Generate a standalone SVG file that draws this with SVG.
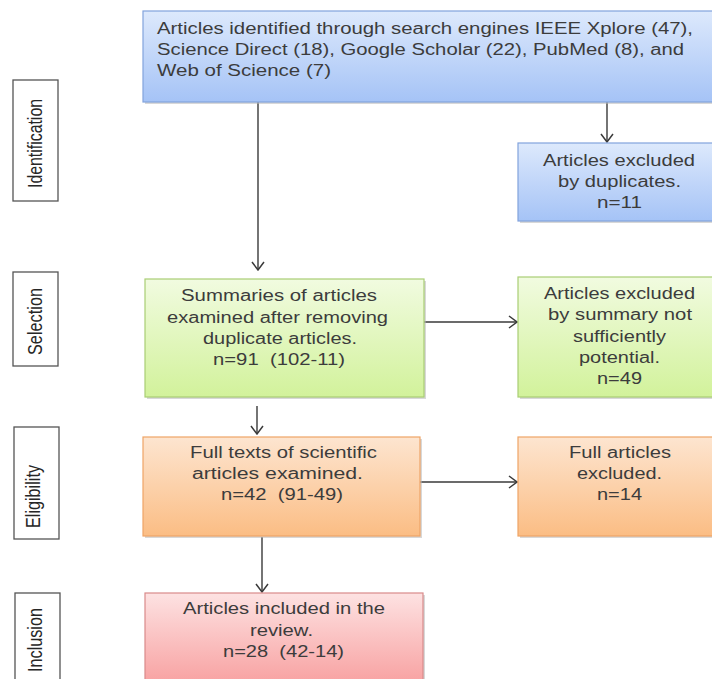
<svg xmlns="http://www.w3.org/2000/svg" width="712" height="679" viewBox="0 0 712 679">
<style>
.t{font-family:"Liberation Sans",Arial,sans-serif;font-size:16px;fill:#3c3c3c;white-space:pre}
.c{text-anchor:middle}
.lab{font-family:"Liberation Sans",Arial,sans-serif;font-size:16px;fill:#262626;text-anchor:middle}
.lb{fill:#fff;stroke:#555;stroke-width:1.3}
.sh{fill:#b8b8b8;opacity:0.55}
.conn{stroke:#3a3a3a;stroke-width:1.4;fill:none;marker-end:url(#ah)}
</style>
<defs>
<linearGradient id="gb" x1="0" y1="0" x2="0" y2="1"><stop offset="0" stop-color="#dde9fc"/><stop offset="1" stop-color="#a5c3f6"/></linearGradient>
<linearGradient id="gg" x1="0" y1="0" x2="0" y2="1"><stop offset="0" stop-color="#f1fbe0"/><stop offset="1" stop-color="#d2f29b"/></linearGradient>
<linearGradient id="go" x1="0" y1="0" x2="0" y2="1"><stop offset="0" stop-color="#fde5d0"/><stop offset="1" stop-color="#fbbd84"/></linearGradient>
<linearGradient id="gp" x1="0" y1="0" x2="0" y2="1"><stop offset="0" stop-color="#fde2e2"/><stop offset="1" stop-color="#f8a2a2"/></linearGradient>
<marker id="ah" viewBox="0 0 10 14" refX="9" refY="7" markerWidth="10" markerHeight="14" markerUnits="userSpaceOnUse" orient="auto">
<polyline points="1,1 9,7 1,13" fill="none" stroke="#3a3a3a" stroke-width="1.5"/>
</marker>
</defs>

<g id="label-identification"><rect class="lb" x="13" y="80" width="45" height="121"/><text class="lab" transform="translate(42,143.5) scale(1.3,1) rotate(-90)" textLength="89" lengthAdjust="spacingAndGlyphs">Identification</text></g>
<g id="label-selection"><rect class="lb" x="13" y="272" width="45" height="94"/><text class="lab" transform="translate(42,321.5) scale(1.3,1) rotate(-90)" textLength="67" lengthAdjust="spacingAndGlyphs">Selection</text></g>
<g id="label-eligibility"><rect class="lb" x="14" y="427" width="45" height="112"/><text class="lab" transform="translate(40,496.5) scale(1.3,1) rotate(-90)" textLength="63" lengthAdjust="spacingAndGlyphs">Eligibility</text></g>
<g id="label-inclusion"><rect class="lb" x="15" y="593" width="45" height="95"/><text class="lab" transform="translate(42,640) scale(1.3,1) rotate(-90)" textLength="64" lengthAdjust="spacingAndGlyphs">Inclusion</text></g>

<g id="connectors">
<line class="conn" x1="258" y1="102" x2="258" y2="270"/>
<line class="conn" x1="607" y1="102" x2="607" y2="142"/>
<line class="conn" x1="424" y1="322" x2="517" y2="322"/>
<line class="conn" x1="257" y1="406" x2="257" y2="434"/>
<line class="conn" x1="420" y1="482" x2="517" y2="482"/>
<line class="conn" x1="262" y1="537" x2="262" y2="592"/>
</g>

<g id="identified">
<rect class="sh" x="145" y="13" width="570" height="91"/>
<rect x="143" y="11" width="572" height="91" fill="url(#gb)" stroke="#82a3dc" stroke-width="1.2"/>
<text class="t" x="157" y="34" textLength="536" lengthAdjust="spacingAndGlyphs">Articles identified through search engines IEEE Xplore (47),</text>
<text class="t" x="157" y="55" textLength="527" lengthAdjust="spacingAndGlyphs">Science Direct (18), Google Scholar (22), PubMed (8), and</text>
<text class="t" x="157" y="76" textLength="174" lengthAdjust="spacingAndGlyphs">Web of Science (7)</text>
</g>

<g id="duplicates">
<rect class="sh" x="520" y="145" width="195" height="78"/>
<rect x="518" y="143" width="197" height="78" fill="url(#gb)" stroke="#82a3dc" stroke-width="1.2"/>
<text class="t c" x="619" y="166" textLength="152" lengthAdjust="spacingAndGlyphs">Articles excluded</text>
<text class="t c" x="619.5" y="187" textLength="123" lengthAdjust="spacingAndGlyphs">by duplicates.</text>
<text class="t c" x="619.5" y="208" textLength="45" lengthAdjust="spacingAndGlyphs">n=11</text>
</g>

<g id="summaries">
<rect class="sh" x="147" y="281" width="279" height="118"/>
<rect x="145" y="279" width="279" height="118" fill="url(#gg)" stroke="#a9cd74" stroke-width="1.2"/>
<text class="t c" x="279" y="301" textLength="196" lengthAdjust="spacingAndGlyphs">Summaries of articles</text>
<text class="t c" x="277.5" y="323" textLength="221" lengthAdjust="spacingAndGlyphs">examined after removing</text>
<text class="t c" x="280" y="344" textLength="154" lengthAdjust="spacingAndGlyphs">duplicate articles.</text>
<text class="t c" x="279" y="365" textLength="132" lengthAdjust="spacingAndGlyphs">n=91  (102-11)</text>
</g>

<g id="excluded-summary">
<rect class="sh" x="520" y="279" width="195" height="120"/>
<rect x="518" y="277" width="197" height="120" fill="url(#gg)" stroke="#a9cd74" stroke-width="1.2"/>
<text class="t c" x="619.5" y="299" textLength="151" lengthAdjust="spacingAndGlyphs">Articles excluded</text>
<text class="t c" x="620" y="320" textLength="144" lengthAdjust="spacingAndGlyphs">by summary not</text>
<text class="t c" x="619.5" y="342" textLength="93" lengthAdjust="spacingAndGlyphs">sufficiently</text>
<text class="t c" x="619.5" y="363" textLength="81" lengthAdjust="spacingAndGlyphs">potential.</text>
<text class="t c" x="619.5" y="384" textLength="45" lengthAdjust="spacingAndGlyphs">n=49</text>
</g>

<g id="fulltexts">
<rect class="sh" x="145" y="439" width="277" height="99"/>
<rect x="143" y="437" width="277" height="99" fill="url(#go)" stroke="#eea466" stroke-width="1.2"/>
<text class="t c" x="283.5" y="458" textLength="187" lengthAdjust="spacingAndGlyphs">Full texts of scientific</text>
<text class="t c" x="277.5" y="479" textLength="171" lengthAdjust="spacingAndGlyphs">articles examined.</text>
<text class="t c" x="282" y="500" textLength="122" lengthAdjust="spacingAndGlyphs">n=42  (91-49)</text>
</g>

<g id="fullexcluded">
<rect class="sh" x="520" y="439" width="195" height="99"/>
<rect x="518" y="437" width="197" height="99" fill="url(#go)" stroke="#eea466" stroke-width="1.2"/>
<text class="t c" x="620" y="458" textLength="102" lengthAdjust="spacingAndGlyphs">Full articles</text>
<text class="t c" x="619.5" y="479" textLength="85" lengthAdjust="spacingAndGlyphs">excluded.</text>
<text class="t c" x="619.5" y="500" textLength="45" lengthAdjust="spacingAndGlyphs">n=14</text>
</g>

<g id="included">
<rect class="sh" x="147" y="595" width="278" height="90"/>
<rect x="145" y="593" width="278" height="90" fill="url(#gp)" stroke="#d98a8a" stroke-width="1.2"/>
<text class="t c" x="284" y="614" textLength="202" lengthAdjust="spacingAndGlyphs">Articles included in the</text>
<text class="t c" x="281.5" y="636" textLength="63" lengthAdjust="spacingAndGlyphs">review.</text>
<text class="t c" x="283.5" y="657" textLength="121" lengthAdjust="spacingAndGlyphs">n=28  (42-14)</text>
</g>
</svg>
